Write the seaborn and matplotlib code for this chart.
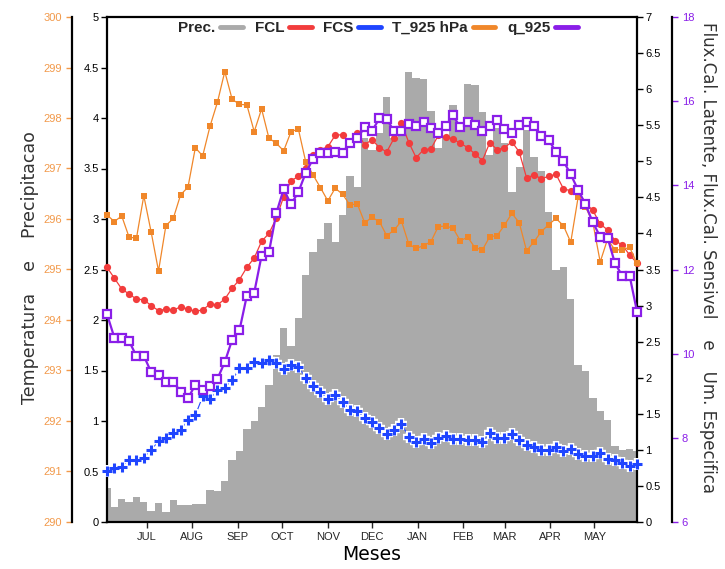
import numpy as np
import pandas as pd
import matplotlib
matplotlib.use("Agg")
import matplotlib.pyplot as plt
from matplotlib.lines import Line2D
from matplotlib.ticker import FuncFormatter
import seaborn as sns

# ---- data: 73 pentads, June through May ----
months = ["JUL", "AUG", "SEP", "OCT", "NOV", "DEC", "JAN", "FEB", "MAR", "APR", "MAY"]
days_in_month = [30, 31, 31, 30, 31, 30, 31, 31, 28, 31, 30]  # Jun .. Apr

prec = [0.34, 0.15, 0.23, 0.195, 0.245, 0.195, 0.11, 0.19, 0.10, 0.215,
        0.165, 0.165, 0.18, 0.18, 0.32, 0.31, 0.41, 0.61, 0.70, 0.92,
        1.00, 1.14, 1.36, 1.65, 1.92, 1.74, 2.02, 2.45, 2.67, 2.80,
        2.96, 2.77, 3.04, 3.43, 3.32, 3.80, 3.68, 3.85, 4.21, 3.80,
        3.85, 4.46, 4.40, 4.39, 4.07, 3.70, 3.80, 4.13, 3.90, 4.34,
        4.33, 4.06, 3.63, 3.90, 3.75, 3.27, 3.51, 3.88, 3.61, 3.48,
        3.07, 2.50, 2.52, 2.21, 1.55, 1.50, 1.23, 1.10, 1.01, 0.75,
        0.71, 0.72, 0.70]

fcl = [3.53, 3.38, 3.23, 3.16, 3.09, 3.08, 3.00, 2.93, 2.95, 2.94,
       2.98, 2.95, 2.92, 2.94, 3.02, 3.01, 3.09, 3.24, 3.36, 3.53,
       3.66, 3.89, 4.00, 4.21, 4.51, 4.73, 4.79, 4.91, 5.09, 5.16,
       5.20, 5.36, 5.37, 5.25, 5.39, 5.23, 5.30, 5.19, 5.13, 5.32,
       5.53, 5.26, 5.05, 5.16, 5.17, 5.36, 5.34, 5.31, 5.25, 5.19,
       5.10, 5.01, 5.26, 5.16, 5.19, 5.27, 5.13, 4.77, 4.81, 4.76,
       4.79, 4.82, 4.62, 4.59, 4.58, 4.42, 4.32, 4.13, 4.05, 3.90,
       3.84, 3.70, 3.59]

fcs = [0.71, 0.75, 0.76, 0.86, 0.86, 0.89, 1.00, 1.12, 1.16, 1.24,
       1.28, 1.41, 1.48, 1.74, 1.70, 1.83, 1.86, 1.97, 2.13, 2.13,
       2.22, 2.21, 2.25, 2.20, 2.12, 2.17, 2.15, 2.00, 1.89, 1.80,
       1.71, 1.76, 1.67, 1.55, 1.54, 1.44, 1.38, 1.30, 1.22, 1.28,
       1.36, 1.18, 1.11, 1.15, 1.10, 1.16, 1.19, 1.15, 1.15, 1.13,
       1.14, 1.11, 1.23, 1.17, 1.17, 1.22, 1.14, 1.07, 1.04, 1.00,
       1.00, 1.04, 0.98, 1.01, 0.94, 0.92, 0.92, 0.96, 0.87, 0.86,
       0.82, 0.78, 0.80]

t925 = [296.08, 295.95, 296.06, 295.64, 295.62, 296.46, 295.74, 294.97, 295.87, 296.01,
        296.48, 296.63, 297.41, 297.25, 297.84, 298.31, 298.92, 298.37, 298.27, 298.26,
        297.73, 298.18, 297.60, 297.50, 297.35, 297.73, 297.78, 297.13, 296.87, 296.62,
        296.36, 296.61, 296.49, 296.28, 296.30, 295.93, 296.03, 295.95, 295.67, 295.78,
        295.96, 295.50, 295.42, 295.47, 295.55, 295.85, 295.86, 295.82, 295.57, 295.64,
        295.43, 295.39, 295.65, 295.67, 295.88, 296.11, 295.93, 295.37, 295.55, 295.75,
        295.89, 296.01, 295.87, 295.54, 296.43, 296.24, 295.93, 295.15, 295.60, 295.39,
        295.39, 295.44, 295.12]

q925 = [10.94, 10.38, 10.38, 10.30, 9.94, 9.95, 9.56, 9.49, 9.32, 9.33,
        9.10, 8.94, 9.26, 9.14, 9.22, 9.40, 9.80, 10.33, 10.56, 11.38,
        11.45, 12.33, 12.41, 13.34, 13.91, 13.55, 13.84, 14.30, 14.63, 14.78,
        14.78, 14.79, 14.78, 15.01, 15.12, 15.38, 15.29, 15.59, 15.57, 15.29,
        15.29, 15.45, 15.42, 15.51, 15.37, 15.24, 15.42, 15.66, 15.38, 15.51,
        15.43, 15.30, 15.41, 15.55, 15.34, 15.24, 15.43, 15.51, 15.42, 15.18,
        15.08, 14.79, 14.58, 14.26, 13.89, 13.55, 13.12, 12.78, 12.76, 12.15,
        11.85, 11.85, 11.00]

pentad = np.arange(1, len(prec) + 1)
df = pd.DataFrame({"pentad": pentad, "prec": prec, "fcl": fcl, "fcs": fcs,
                   "t925": t925, "q925": q925})

# month starts expressed in pentad coordinates (day offset from 1 June)
month_start_day = np.cumsum(days_in_month)
month_ticks = (month_start_day + 2) / 5.0

# ---- style ----
sns.set_theme(style="white")
plt.rcParams["font.family"] = ["DejaVu Sans"]
TICK_FONT = ["Liberation Sans Narrow", "Liberation Sans", "DejaVu Sans"]

C_PREC = "#aaaaaa"
C_FCL = "#f23c3c"
C_FCS = "#1f45ff"
C_T = "#f0872a"
C_T_LAB = "#f2994a"
C_Q = "#8a1ee8"
C_TXT = "#333333"

W, H = 725, 569
fig = plt.figure(figsize=(W / 100, H / 100), dpi=100)
L, R, T, B = 107, 637, 17, 522
ax = fig.add_axes([L / W, 1 - B / H, (R - L) / W, (B - T) / H])
ax_r = ax.twinx()
ax_t = ax.twinx()
ax_q = ax.twinx()

# precipitation bars
sns.histplot(data=df, x="pentad", weights="prec", discrete=True, element="step",
             fill=True, color=C_PREC, alpha=1.0, linewidth=0, ax=ax)

# latent heat flux
sns.lineplot(data=df, x="pentad", y="fcl", ax=ax_r, color=C_FCL, linewidth=0.9,
             marker="o", markersize=5.2, markeredgewidth=0, errorbar=None,
             clip_on=False)

# sensible heat flux: thin line, white halo, then blue crosses
sns.lineplot(data=df, x="pentad", y="fcs", ax=ax_r, color=C_FCS, linewidth=0.8,
             errorbar=None)
sns.lineplot(data=df, x="pentad", y="fcs", ax=ax_r, color="white", linestyle="none",
             marker="+", markersize=8.5, markeredgewidth=4.6,
             markeredgecolor="white", errorbar=None, clip_on=False)
sns.lineplot(data=df, x="pentad", y="fcs", ax=ax_r, color=C_FCS, linestyle="none",
             marker="+", markersize=6.5, markeredgewidth=2.2,
             markeredgecolor=C_FCS, errorbar=None, clip_on=False)

# temperature at 925 hPa
sns.lineplot(data=df, x="pentad", y="t925", ax=ax_t, color=C_T, linewidth=0.9,
             marker="s", markersize=4.8, markeredgewidth=0, errorbar=None,
             clip_on=False)

# specific humidity at 925 hPa
sns.lineplot(data=df, x="pentad", y="q925", ax=ax_q, color=C_Q, linewidth=1.6,
             marker="s", markersize=5.3, markerfacecolor="white",
             markeredgecolor=C_Q, markeredgewidth=1.6, errorbar=None,
             clip_on=False)

# ---- axes ----
fmt = FuncFormatter(lambda v, _: f"{v:g}")
for a in (ax, ax_r, ax_t, ax_q):
    a.set_xlim(1, len(prec))
    a.set_xlabel("")
    a.set_ylabel("")
    for s in a.spines.values():
        s.set_visible(False)
    a.yaxis.set_major_formatter(fmt)
    a.grid(False)

ax.set_ylim(0, 5)
ax_r.set_ylim(0, 7)
ax_t.set_ylim(290, 300)
ax_q.set_ylim(6, 18)

ax.set_yticks(np.arange(0, 5.01, 0.5))
ax_r.set_yticks(np.arange(0, 7.01, 0.5))
ax_t.set_yticks(np.arange(290, 300.1, 1))
ax_q.set_yticks(np.arange(6, 18.1, 2))

for side in ("left", "right", "top", "bottom"):
    ax.spines[side].set_visible(True)
    ax.spines[side].set_color("black")
    ax.spines[side].set_linewidth(1.6)

ax_t.yaxis.set_ticks_position("left")
ax_t.spines["left"].set_visible(True)
ax_t.spines["left"].set_position(("axes", -35 / (R - L)))
ax_t.spines["left"].set_color("black")
ax_t.spines["left"].set_linewidth(1.6)

ax_q.spines["right"].set_visible(True)
ax_q.spines["right"].set_position(("axes", 1 + 35 / (R - L)))
ax_q.spines["right"].set_color("black")
ax_q.spines["right"].set_linewidth(1.6)

ax.set_xticks(month_ticks)
ax.set_xticklabels(months)
ax.tick_params(axis="x", direction="out", length=4, width=1, pad=3,
               labelsize=8, bottom=True, top=False)
ax.tick_params(axis="y", direction="out", length=4, width=1, pad=2,
               labelsize=8, left=True, colors="black")
ax_r.tick_params(axis="y", direction="out", length=4, width=1, pad=2,
                 labelsize=8, right=True, colors="black")
ax_t.tick_params(axis="y", direction="out", length=4, width=1, pad=3,
                 labelsize=8, left=True, right=False, colors=C_T_LAB)
ax_q.tick_params(axis="y", direction="out", length=4, width=1, pad=3,
                 labelsize=8, right=True, colors=C_Q)
for a in (ax, ax_r, ax_t, ax_q):
    for lab in a.get_xticklabels() + a.get_yticklabels():
        lab.set_family(TICK_FONT)

# ---- titles ----
fig.text(30 / W, 1 - 268 / H, "Temperatura    e    Precipitacao", rotation=90,
         ha="center", va="center", fontsize=12.5, color=C_TXT)
fig.text(708 / W, 1 - 257 / H,
         "Flux.Cal. Latente, Flux.Cal. Sensivel    e    Um. Especifica",
         rotation=270, ha="center", va="center", fontsize=12, color=C_TXT)
fig.text(372 / W, 1 - 555 / H, "Meses", ha="center", va="center",
         fontsize=13.5, color="black")

handles = [Line2D([], [], color=c, linewidth=3.5, solid_capstyle="round")
           for c in (C_PREC, C_FCL, C_FCS, C_T, C_Q)]
labels = ["Prec.", "FCL", "FCS", "T_925 hPa", "q_925"]
fig.legend(handles, labels, loc="center", bbox_to_anchor=(378 / W, 1 - 28 / H),
           ncol=5, frameon=False, markerfirst=False, handlelength=1.5,
           handletextpad=0.3, columnspacing=0.75,
           prop={"family": ["Liberation Sans", "DejaVu Sans"], "weight": "bold",
                 "size": 11})

fig.savefig("out.png", dpi=100)
